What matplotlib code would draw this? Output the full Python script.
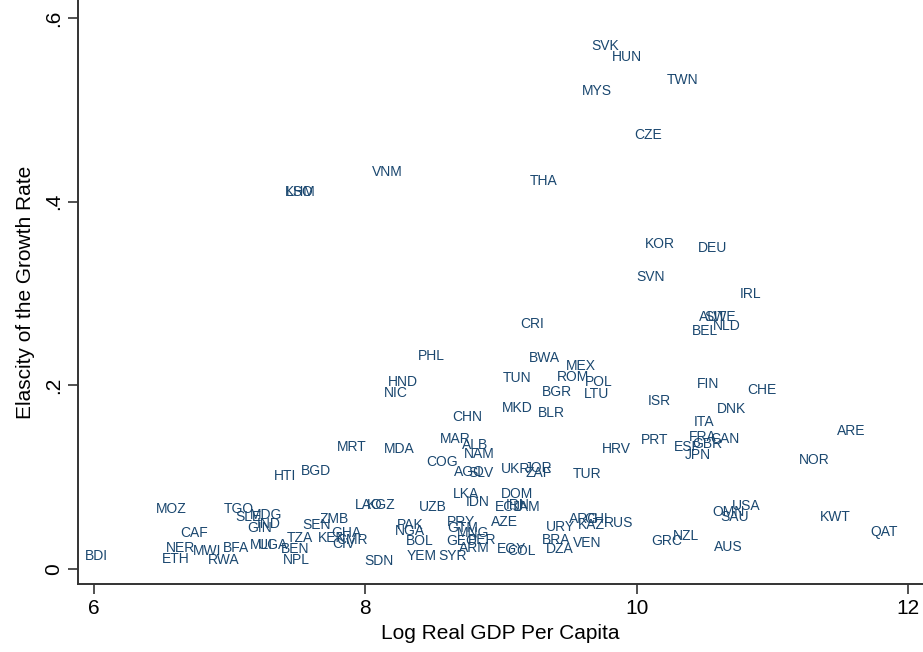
import numpy as np
import matplotlib
matplotlib.use("Agg")
import matplotlib.pyplot as plt

# country codes and values
codes = ["BDI", "ETH", "NER", "MWI", "RWA", "BFA", "CAF", "MOZ", "TGO", "SLE",
         "MDG", "GIN", "IND", "MLI", "UGA", "BEN", "NPL", "TZA", "SEN", "ZMB",
         "KEN", "GHA", "CIV", "CMR", "LAO", "KGZ", "UZB", "PAK", "NGA", "BOL",
         "SDN", "YEM", "SYR", "PRY", "GTM", "MNG", "GEO", "PER", "ARM", "EGY",
         "COL", "LKA", "IDN", "DOM", "ECU", "IRN", "JAM", "AZE", "URY", "ARG",
         "KAZ", "CHL", "RUS", "BRA", "DZA", "VEN", "GRC", "NZL", "OMN", "USA",
         "SAU", "AUS", "KWT", "QAT", "HND", "NIC", "TUN", "CHN", "MKD", "BLR",
         "BGR", "MRT", "MDA", "MAR", "ALB", "NAM", "COG", "AGO", "SLV", "UKR",
         "JOR", "ZAF", "HTI", "BGD", "MEX", "ROM", "POL", "LTU", "ISR", "FIN",
         "CHE", "DNK", "ITA", "FRA", "CAN", "ESP", "GBR", "JPN", "PRT", "HRV",
         "TUR", "IRL", "AUT", "SWE", "NLD", "BEL", "VNM", "KHM", "LSO", "THA",
         "SVK", "HUN", "TWN", "MYS", "CZE", "KOR", "DEU", "SVN", "CRI", "PHL",
         "BWA", "ARE", "NOR"]

log_gdp = [5.934, 6.501, 6.531, 6.730, 6.841, 6.951, 6.634, 6.457, 6.959, 7.040,
           7.150, 7.128, 7.202, 7.150, 7.209, 7.379, 7.394, 7.423, 7.534, 7.659,
           7.652, 7.748, 7.755, 7.785, 7.925, 8.013, 8.397, 8.234, 8.220, 8.301,
           7.991, 8.301, 8.537, 8.603, 8.603, 8.677, 8.596, 8.758, 8.692, 8.972,
           9.046, 8.647, 8.743, 9.001, 8.957, 9.038, 9.083, 8.928, 9.333, 9.503,
           9.569, 9.614, 9.761, 9.304, 9.333, 9.532, 10.108, 10.270, 10.558, 10.705,
           10.617, 10.572, 11.347, 11.723, 8.168, 8.139, 9.009, 8.640, 9.009, 9.274,
           9.304, 7.792, 8.139, 8.552, 8.714, 8.729, 8.448, 8.655, 8.758, 9.001,
           9.178, 9.178, 7.327, 7.527, 9.481, 9.414, 9.621, 9.614, 10.078, 10.440,
           10.816, 10.594, 10.417, 10.381, 10.543, 10.277, 10.410, 10.351, 10.027, 9.746,
           9.525, 10.757, 10.462, 10.499, 10.558, 10.410, 8.050, 7.409, 7.416, 9.215,
           9.665, 9.820, 10.218, 9.599, 9.982, 10.063, 10.454, 9.997, 9.142, 8.389,
           9.208, 11.479, 11.192]

elasticity = [0.014, 0.011, 0.023, 0.020, 0.010, 0.023, 0.039, 0.065, 0.065, 0.057,
              0.059, 0.045, 0.049, 0.026, 0.026, 0.022, 0.010, 0.034, 0.048, 0.054,
              0.034, 0.039, 0.027, 0.032, 0.070, 0.070, 0.068, 0.048, 0.041, 0.031,
              0.009, 0.014, 0.014, 0.051, 0.045, 0.039, 0.031, 0.032, 0.023, 0.022,
              0.020, 0.082, 0.073, 0.082, 0.068, 0.070, 0.068, 0.051, 0.046, 0.054,
              0.048, 0.054, 0.050, 0.032, 0.022, 0.028, 0.031, 0.036, 0.062, 0.069,
              0.057, 0.024, 0.057, 0.040, 0.204, 0.192, 0.208, 0.166, 0.175, 0.170,
              0.193, 0.133, 0.131, 0.142, 0.135, 0.125, 0.116, 0.106, 0.105, 0.109,
              0.110, 0.105, 0.101, 0.107, 0.221, 0.209, 0.204, 0.191, 0.183, 0.201,
              0.195, 0.174, 0.160, 0.144, 0.142, 0.133, 0.136, 0.124, 0.140, 0.131,
              0.104, 0.300, 0.274, 0.274, 0.265, 0.259, 0.432, 0.411, 0.410, 0.422,
              0.570, 0.558, 0.533, 0.521, 0.473, 0.354, 0.350, 0.318, 0.267, 0.232,
              0.230, 0.150, 0.119]

LABEL_COL = "#1a476f"
AXIS_FONT = ["Liberation Sans Narrow", "Liberation Sans", "DejaVu Sans"]

fig = plt.figure(figsize=(9.23, 6.52), dpi=100)
ax = fig.add_axes([0.0845, 0.1043, 0.9155, 0.8957])

for c, x, y in zip(codes, log_gdp, elasticity):
    ax.text(x, y, c, fontsize=10, color=LABEL_COL, ha="left", va="center",
            family=["Liberation Sans", "DejaVu Sans"])

ax.set_xlim(5.882, 12.11)
ax.set_ylim(-0.0163, 0.6196)
ax.set_xticks([6, 8, 10, 12])
ax.set_xticklabels(["6", "8", "10", "12"])
ax.set_yticks([0, 0.2, 0.4, 0.6])
ax.set_yticklabels(["0", ".2", ".4", ".6"], rotation=90, va="center")

for lab in ax.get_xticklabels() + ax.get_yticklabels():
    lab.set_fontfamily(AXIS_FONT)
    lab.set_fontsize(15)

ax.tick_params(direction="out", length=7, width=1.2, color="#333333", pad=4)
for s in ["top", "right"]:
    ax.spines[s].set_visible(False)
for s in ["left", "bottom"]:
    ax.spines[s].set_color("#333333")
    ax.spines[s].set_linewidth(1.4)

ax.set_xlabel("Log Real GDP Per Capita", fontsize=15, family=AXIS_FONT, labelpad=4)
ax.set_ylabel("Elascity of the Growth Rate", fontsize=15, family=AXIS_FONT, labelpad=6)

plt.savefig("out.png", dpi=100)
